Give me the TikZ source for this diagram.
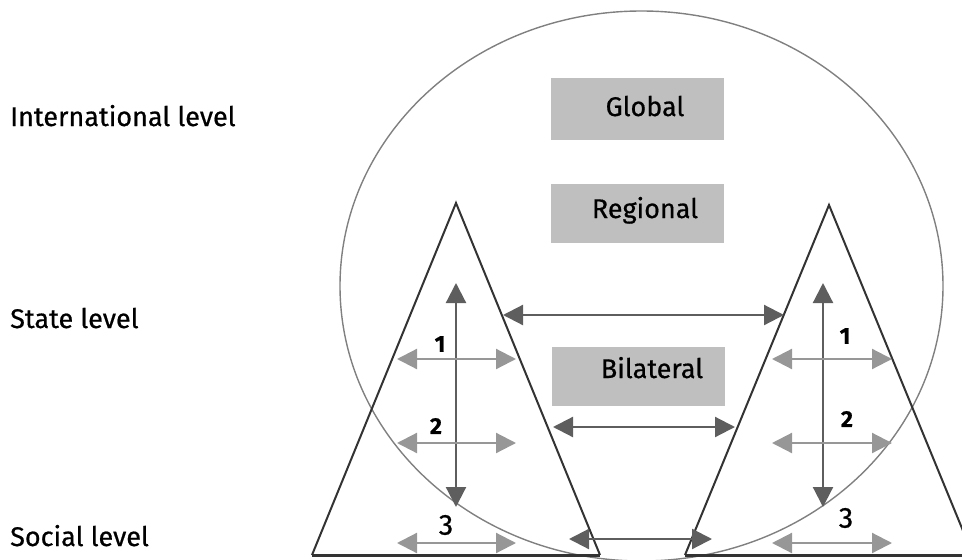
\documentclass[tikz,border=0pt]{standalone}
\usepackage{fontspec}
\setmainfont{Fira Sans}[FakeBold=0.6]
\usetikzlibrary{arrows.meta}
\definecolor{boxgray}{HTML}{BFBFBF}
\definecolor{ringgray}{HTML}{808080}
\definecolor{trigray}{HTML}{333333}
\definecolor{darkarr}{HTML}{5E5E5E}
\definecolor{lightarr}{HTML}{979797}
\begin{document}
\begin{tikzpicture}[x=1pt,y=-1pt,
  lbl/.style={anchor=base west,font=\fontsize{27}{31}\selectfont,inner sep=0pt},
  boxtxt/.style={anchor=base,font=\fontsize{27}{31}\selectfont,inner sep=0pt},
  grbox/.style={fill=boxgray,draw=none,minimum width=173pt,inner sep=0pt},
  num/.style={font=\fontsize{23}{26}\selectfont\bfseries,inner sep=0pt},
  bignum/.style={font=\fontsize{29}{33}\selectfont,inner sep=0pt},
  ring/.style={draw=ringgray,line width=1.4pt},
  triline/.style={draw=trigray,line width=2pt,line join=miter},
  baseline/.style={draw=trigray,line width=3pt},
  darkarrow/.style={draw=darkarr,line width=2.2pt,{Triangle[length=20pt,width=20pt]}-{Triangle[length=20pt,width=20pt]}},
  lightarrow/.style={draw=lightarr,line width=2.2pt,{Triangle[length=20pt,width=20pt]}-{Triangle[length=20pt,width=20pt]}}
]
\useasboundingbox (0,0) rectangle (962,560);
\clip (0,0) rectangle (962,560);

% boxes
\node[grbox,minimum height=62pt] (global) at (637.5,109) {};
\node[grbox,minimum height=59pt] (regional) at (637.5,213.5) {};
\node[grbox,minimum height=59pt] (bilateral) at (638.5,376.5) {};
\node[boxtxt] (globaltxt) at (645,116) {Global};
\node[boxtxt] (regionaltxt) at (645,218) {Regional};
\node[boxtxt] (bilateraltxt) at (652,378) {Bilateral};

% ring
\draw[ring] (641.5,286) ellipse [x radius=301.5pt, y radius=275pt];

% level labels
\node[lbl] (intl) at (10,126) {International level};
\node[lbl] (state) at (10,328) {State level};
\node[lbl] (social) at (10,546) {Social level};

% triangles
\coordinate (LA) at (456,203);
\coordinate (LL) at (312,555);
\coordinate (LR) at (600,555);
\coordinate (RA) at (829,205);
\coordinate (RL) at (685,555);
\coordinate (RR) at (973,555);
\draw[triline] (LL) -- (LA) -- (LR);
\draw[baseline] (LL) -- (LR);
\draw[triline] (RL) -- (RA) -- (RR);
\draw[baseline] (RL) -- (RR);

% vertical arrows
\coordinate (LVt) at (456,283);
\coordinate (LVb) at (456,507);
\coordinate (RVt) at (823,283);
\coordinate (RVb) at (823,507);
\draw[darkarrow] (LVt) -- (LVb);
\draw[darkarrow] (RVt) -- (RVb);

% between-state arrows
\coordinate (S1a) at (503,315);
\coordinate (S1b) at (784,315);
\coordinate (S2a) at (553,427);
\coordinate (S2b) at (735,427);
\coordinate (S3a) at (569,539);
\coordinate (S3b) at (712,539);
\draw[darkarrow] (S1a) -- (S1b);
\draw[darkarrow] (S2a) -- (S2b);
\draw[darkarrow] (S3a) -- (S3b);

% inner level arrows
\coordinate (L1a) at (397,359); \coordinate (L1b) at (516,359);
\coordinate (L2a) at (397,443); \coordinate (L2b) at (516,443);
\coordinate (L3a) at (397,543); \coordinate (L3b) at (516,543);
\coordinate (R1a) at (772,359); \coordinate (R1b) at (892,359);
\coordinate (R2a) at (772,443); \coordinate (R2b) at (892,443);
\coordinate (R3a) at (772,543); \coordinate (R3b) at (892,543);
\draw[lightarrow] (L1a) -- (L1b);
\draw[lightarrow] (L2a) -- (L2b);
\draw[lightarrow] (L3a) -- (L3b);
\draw[lightarrow] (R1a) -- (R1b);
\draw[lightarrow] (R2a) -- (R2b);
\draw[lightarrow] (R3a) -- (R3b);

% numbers
\node[num] (ln1) at (440,344) {1};
\node[num] (ln2) at (436,426) {2};
\node[bignum] (ln3) at (446,525) {3};
\node[num] (rn1) at (845,336) {1};
\node[num] (rn2) at (847,419) {2};
\node[bignum] (rn3) at (846,518) {3};
\end{tikzpicture}
\end{document}
